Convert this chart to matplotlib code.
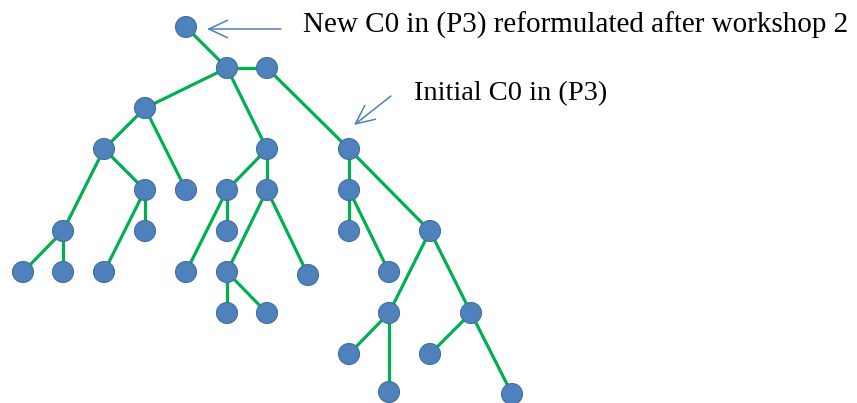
import matplotlib
matplotlib.use("Agg")
import matplotlib.pyplot as plt
from matplotlib.patches import Circle

# node centres (pixel space of the original picture, y downwards)
node_x = [186, 227, 267, 145, 104, 267, 349,
          145, 186, 227, 267, 349,
          63, 145, 227, 349, 430,
          23, 63, 104, 186, 227, 308, 389,
          227, 267, 389, 471,
          349, 430, 389, 512]
node_y = [27, 68, 68, 108, 149, 149, 149,
          190, 190, 190, 190, 190,
          231, 231, 231, 231, 231,
          272, 272, 272, 272, 272, 275, 272,
          313, 313, 313, 313,
          354, 354, 392, 394]

# parent -> child links
edges = [(0, 1), (1, 2), (1, 3), (1, 5), (2, 6),
         (3, 4), (3, 8), (4, 7), (4, 12), (7, 13), (7, 19),
         (12, 17), (12, 18),
         (5, 9), (5, 10), (9, 14), (9, 20), (10, 21), (10, 22),
         (21, 24), (21, 25),
         (6, 11), (6, 16), (11, 15), (11, 23),
         (16, 26), (16, 27), (26, 28), (26, 30), (27, 29), (27, 31)]

labels = ["New C0 in (P3) reformulated after workshop 2", "Initial C0 in (P3)"]
label_x = [303, 414]
label_y = [33, 100]
label_size = [21, 20.5]
arrow_tail = [(281, 29), (391, 96)]
arrow_head = [(207, 29), (354, 125)]

node_r = 10.5
fill = "#4F81BD"
edge_col = "#41719C"
green = "#00B050"

fig = plt.figure(figsize=(8.57, 4.03), dpi=100)
ax = fig.add_axes([0, 0, 1, 1])
ax.set_xlim(0, 857)
ax.set_ylim(403, 0)
ax.set_aspect("equal")
ax.axis("off")

for a, b in edges:
    ax.plot([node_x[a], node_x[b]], [node_y[a], node_y[b]], color=green,
            lw=2.3, solid_capstyle="butt", zorder=1)

for x, y in zip(node_x, node_y):
    ax.add_patch(Circle((x, y), node_r, facecolor=fill, edgecolor=edge_col,
                        lw=0.8, zorder=2))

for txt, x, y, s in zip(labels, label_x, label_y, label_size):
    ax.text(x, y, txt, family="Liberation Serif", fontsize=s,
            ha="left", va="baseline", color="black")

for tail, head in zip(arrow_tail, arrow_head):
    ax.annotate("", xy=head, xytext=tail,
                arrowprops=dict(arrowstyle="->,head_length=0.75,head_width=0.35",
                                color="#4F81BD", lw=1.1, mutation_scale=18,
                                shrinkA=0, shrinkB=0))

fig.savefig("out.png", dpi=100)
